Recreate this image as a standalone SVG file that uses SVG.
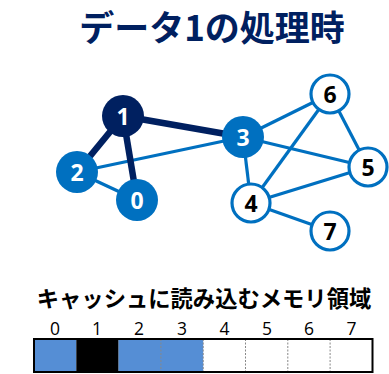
<svg xmlns="http://www.w3.org/2000/svg" width="389" height="374" viewBox="0 0 389 374">
<style>
.jp{font-family:"Noto Sans CJK JP","Noto Sans",sans-serif;font-weight:bold}
.e{stroke:#0070C0;stroke-width:3.2;fill:none}
.t{stroke:#002060;stroke-width:6.5;fill:none}
.nf{fill:#0070C0}
.nd{fill:#002060}
.no{fill:#fff;stroke:#0070C0;stroke-width:3.2}
.lw{font-family:"Open Sans","Liberation Sans",sans-serif;font-weight:bold;font-size:23px;fill:#fff;text-anchor:middle}
.lb{font-family:"Open Sans","Liberation Sans",sans-serif;font-weight:bold;font-size:23px;fill:#000;text-anchor:middle}
.idx{font-family:"Open Sans","Liberation Sans",sans-serif;font-size:17.5px;fill:#000;text-anchor:middle}
.sep{stroke:#888;stroke-width:1;stroke-dasharray:2 1.5}
</style>
<rect width="389" height="374" fill="#fff"/>
<text x="212" y="41" class="jp" font-size="35" fill="#002060" text-anchor="middle">データ1の処理時</text>
<g id="connectors">
<line class="e" x1="77" y1="172" x2="243" y2="137"/>
<line class="e" x1="77" y1="172" x2="137" y2="200"/>
<line class="e" x1="243" y1="137" x2="330" y2="94"/>
<line class="e" x1="243" y1="137" x2="368" y2="167"/>
<line class="e" x1="243" y1="137" x2="251" y2="203"/>
<line class="e" x1="330" y1="94" x2="251" y2="203"/>
<line class="e" x1="330" y1="94" x2="368" y2="167"/>
<line class="e" x1="251" y1="203" x2="368" y2="167"/>
<line class="e" x1="251" y1="203" x2="330" y2="231"/>
<line class="t" x1="123" y1="116" x2="77" y2="172"/>
<line class="t" x1="123" y1="116" x2="137" y2="200"/>
<line class="t" x1="123" y1="116" x2="243" y2="137"/>
</g>
<g id="node0"><circle class="nf" cx="137" cy="200" r="21"/><text class="lw" x="137" y="209">0</text></g>
<g id="node1"><circle class="nd" cx="123" cy="116" r="21"/><text class="lw" x="123" y="125">1</text></g>
<g id="node2"><circle class="nf" cx="77" cy="172" r="21"/><text class="lw" x="77" y="181">2</text></g>
<g id="node3"><circle class="nf" cx="243" cy="137" r="21"/><text class="lw" x="243" y="146">3</text></g>
<g id="node4"><circle class="no" cx="251" cy="203" r="19"/><text class="lb" x="251" y="212">4</text></g>
<g id="node5"><circle class="no" cx="368" cy="167" r="19"/><text class="lb" x="368" y="176">5</text></g>
<g id="node6"><circle class="no" cx="330" cy="94" r="19"/><text class="lb" x="330" y="103">6</text></g>
<g id="node7"><circle class="no" cx="330" cy="231" r="19"/><text class="lb" x="330" y="240">7</text></g>
<text x="204" y="307" class="jp" font-size="22.3" fill="#000" text-anchor="middle">キャッシュに読み込むメモリ領域</text>
<g id="memory">
<text class="idx" x="55" y="335">0</text>
<text class="idx" x="97" y="335">1</text>
<text class="idx" x="139" y="335">2</text>
<text class="idx" x="182" y="335">3</text>
<text class="idx" x="224.5" y="335">4</text>
<text class="idx" x="267" y="335">5</text>
<text class="idx" x="309" y="335">6</text>
<text class="idx" x="351.5" y="335">7</text>
<rect x="34" y="339" width="42.3" height="33" fill="#558ED5"/>
<rect x="76.3" y="339" width="42.3" height="33" fill="#000"/>
<rect x="118.6" y="339" width="84.6" height="33" fill="#558ED5"/>
<line class="sep" x1="160.9" y1="339" x2="160.9" y2="372"/>
<line class="sep" x1="203.2" y1="339" x2="203.2" y2="372"/>
<line class="sep" x1="245.5" y1="339" x2="245.5" y2="372"/>
<line class="sep" x1="287.8" y1="339" x2="287.8" y2="372"/>
<line class="sep" x1="330.1" y1="339" x2="330.1" y2="372"/>
<rect x="34" y="339" width="338.5" height="33" fill="none" stroke="#000" stroke-width="2"/>
</g>
</svg>
